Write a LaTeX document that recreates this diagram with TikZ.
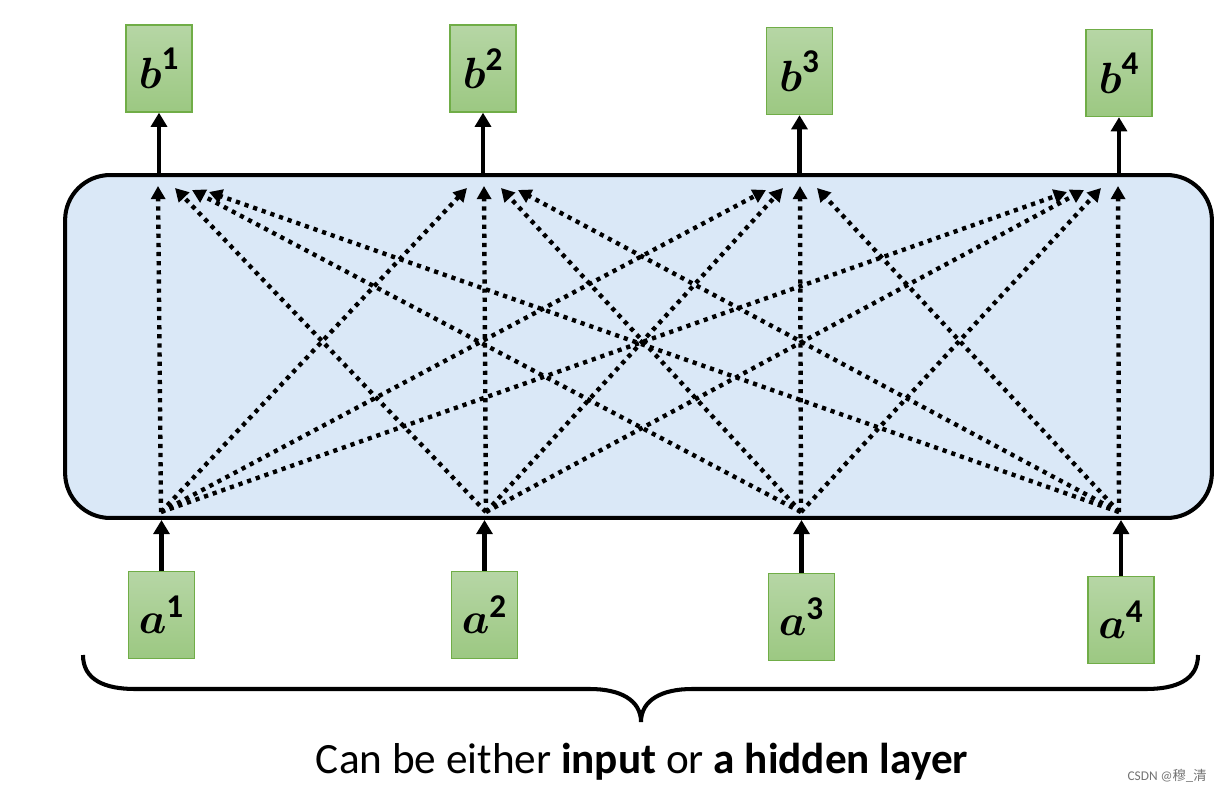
\documentclass[tikz,border=0pt]{standalone}
\usepackage{amsmath}
\usepackage{fontspec}
\setmainfont{Carlito}
\newfontfamily\cjkfont{Noto Sans CJK SC}
\usetikzlibrary{arrows.meta,calc}

\definecolor{unittop}{RGB}{182,214,165}
\definecolor{unitbottom}{RGB}{156,200,130}
\definecolor{unitline}{RGB}{112,173,71}
\definecolor{layerfill}{RGB}{218,232,247}

\tikzset{
  unit/.style={draw=unitline, line width=0.8pt, top color=unittop, bottom color=unitbottom,
    minimum width=1.32cm, minimum height=1.74cm, inner sep=0pt, font=\fontsize{27}{30}\selectfont},
  layer/.style={draw, line width=2.3pt, fill=layerfill, rounded corners=0.9cm,
    minimum width=22.94cm, minimum height=6.86cm},
  uparrow/.style={line width=2.3pt, -{Triangle[length=8pt,width=9pt]}},
  flow/.style={line width=2.5pt, dash pattern=on 2.4pt off 2.8pt, -{Triangle[length=7.5pt,width=8pt]}}
}
\newcommand{\unitlabel}[2]{$\boldsymbol{#1}^{\mathbf{#2}}$}

\begin{document}
\begin{tikzpicture}[x=0.02cm,y=-0.02cm]
		\useasboundingbox (0,0) rectangle (1227,791);
		
		\node[layer] (layer) at (638.5,346.5) {};
		
		\node[unit] (b1) at (159,68.5) {\unitlabel{b}{1}};
		\node[unit] (b2) at (483,68.5) {\unitlabel{b}{2}};
		\node[unit] (b3) at (799.5,71) {\unitlabel{b}{3}};
		\node[unit] (b4) at (1119,73) {\unitlabel{b}{4}};
		
		\node[unit] (a1) at (161.5,615) {\unitlabel{a}{1}};
		\node[unit] (a2) at (484.5,615) {\unitlabel{a}{2}};
		\node[unit] (a3) at (801.5,617) {\unitlabel{a}{3}};
		\node[unit] (a4) at (1121,620) {\unitlabel{a}{4}};
		
		% points where the dotted links start and end
		\coordinate (in1) at (161,512);
		\coordinate (in2) at (486,512);
		\coordinate (in3) at (801,512);
		\coordinate (in4) at (1119,512);
		\coordinate (out1) at (158,186);
		\coordinate (out2) at (484,186);
		\coordinate (out3) at (800,186);
		\coordinate (out4) at (1118,186);
		
		\foreach \i in {1,...,4}
		  \foreach \j in {1,...,4}
		    \draw[flow] (in\i) -- ($(out\j)+({17*(\i-\j)},{2*abs(\i-\j)})$);
		
		\foreach \k in {1,...,4} {
		  \draw[uparrow] (b\k.south |- layer.north) -- (b\k.south);
		  \draw[uparrow] (a\k.north) -- (a\k.north |- layer.south);
		}
		
		% brace under the inputs
		\draw[line width=2.3pt] (83,655) .. controls (83,680) and (105,689) .. (135,689)
		  -- (590,689) .. controls (620,689) and (641,700) .. (641,722)
		  .. controls (641,700) and (662,689) .. (692,689)
		  -- (1146,689) .. controls (1176,689) and (1198,680) .. (1198,655);
		
		\node[font=\fontsize{24.6}{30}\selectfont] (caption) at (642,762)
		  {Can be either \textbf{input} or \textbf{a hidden layer}};
		
		\node[font=\fontsize{7.6}{9}\selectfont, text=black!55, anchor=east] (mark) at (1213,776)
		  {CSDN @{\cjkfont 穆\_清}};
\end{tikzpicture}
\end{document}
